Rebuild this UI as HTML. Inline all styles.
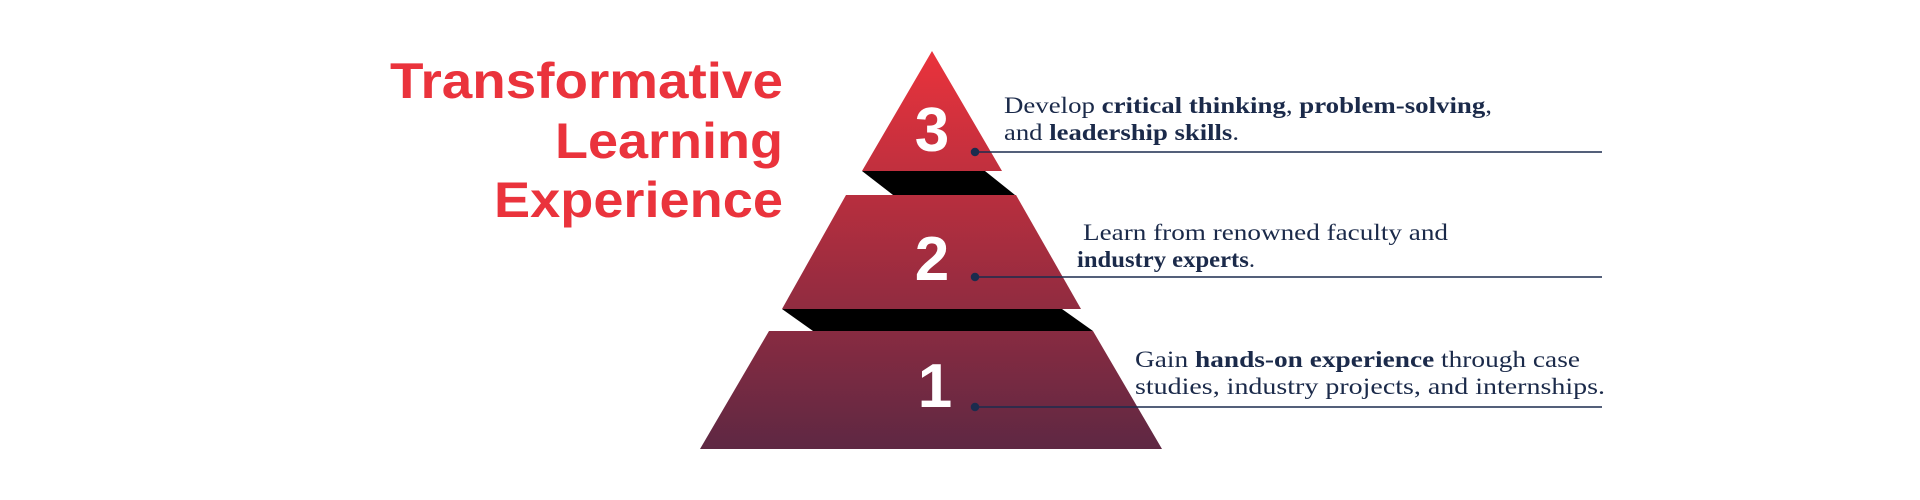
<!DOCTYPE html>
<html><head><meta charset="utf-8"><style>html,body{margin:0;padding:0;background:#fff}svg{display:block}</style></head>
<body>
<svg width="1920" height="500" viewBox="0 0 1920 500" xmlns="http://www.w3.org/2000/svg">
<defs>
<linearGradient id="g" x1="0" y1="51" x2="0" y2="449" gradientUnits="userSpaceOnUse">
<stop offset="0" stop-color="#ea333c"/>
<stop offset="0.5" stop-color="#a52d3f"/>
<stop offset="1" stop-color="#5e2843"/>
</linearGradient>
</defs>
<g font-family="'Liberation Sans', sans-serif" font-weight="bold" font-size="50" fill="#ea333c" text-anchor="end">
<text x="783" y="98" textLength="393" lengthAdjust="spacingAndGlyphs">Transformative</text>
<text x="783" y="158" textLength="228" lengthAdjust="spacingAndGlyphs">Learning</text>
<text x="783" y="217" textLength="289" lengthAdjust="spacingAndGlyphs">Experience</text>
</g>
<polygon points="862,171 985,171 1015,195 893,195" fill="#000"/>
<polygon points="782,309 1062,309 1093,331 813,331" fill="#000"/>
<polygon points="932,51 1002,171 862,171" fill="url(#g)"/>
<polygon points="846,195 1016,195 1081,309 782,309" fill="url(#g)"/>
<polygon points="769,331 1093,331 1162,449 700,449" fill="url(#g)"/>
<g font-family="'Liberation Sans', sans-serif" font-weight="bold" font-size="62" fill="#fff" text-anchor="middle">
<text x="932" y="151">3</text>
<text x="932" y="280">2</text>
<text x="935" y="407">1</text>
</g>
<g stroke="#1b2c4e" stroke-width="1.5" fill="#1b2c4e">
<line x1="975" y1="152" x2="1602" y2="152"/><circle cx="975" cy="152" r="3.5"/>
<line x1="975" y1="277" x2="1602" y2="277"/><circle cx="975" cy="277" r="3.5"/>
<line x1="975" y1="407" x2="1602" y2="407"/><circle cx="975" cy="407" r="3.5"/>
</g>
<g font-family="'Liberation Serif', serif" font-size="23" fill="#1b2a4a">
<text x="1004" y="113" textLength="488" lengthAdjust="spacingAndGlyphs">Develop <tspan font-weight="bold">critical thinking</tspan>, <tspan font-weight="bold">problem-solving</tspan>,</text>
<text x="1004" y="140" textLength="235" lengthAdjust="spacingAndGlyphs">and <tspan font-weight="bold">leadership skills</tspan>.</text>
<text x="1083" y="240" textLength="365" lengthAdjust="spacingAndGlyphs">Learn from renowned faculty and</text>
<text x="1077" y="267" textLength="178" lengthAdjust="spacingAndGlyphs"><tspan font-weight="bold">industry experts</tspan>.</text>
<text x="1135" y="367" textLength="445" lengthAdjust="spacingAndGlyphs">Gain <tspan font-weight="bold">hands-on experience</tspan> through case</text>
<text x="1135" y="394" textLength="470" lengthAdjust="spacingAndGlyphs">studies, industry projects, and internships.</text>
</g>
</svg>
</body></html>
